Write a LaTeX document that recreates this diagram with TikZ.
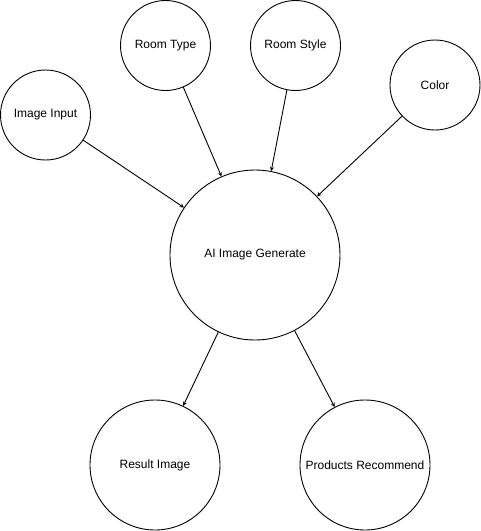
\documentclass[tikz,border=0pt]{standalone}
\usepackage{fontspec}
\setmainfont{Liberation Sans}
\begin{document}
\begin{tikzpicture}[x=1pt, y=-1pt, font=\fontsize{12}{14}\selectfont, line join=round, line cap=round, >=stealth]
	\tikzset{nut/.style={draw, circle, line width=0.9pt, inner sep=0pt, minimum size=#1}}
	\def\r{90} % Đường kính vòng nhỏ
	\def\R{130} % Đường kính vòng kết quả
	\useasboundingbox (0,0) rectangle (481,531);
	\node[nut=170] (AI) at (255,255) {AI Image Generate};
	\node[nut=\r] (input) at (45.5,115) {Image Input};
	\node[nut=\r] (type) at (165.5,45.5) {Room Type};
	\node[nut=\r] (style) at (295.5,45.5) {Room Style};
	\node[nut=\r] (color) at (435,85) {Color};
	\node[nut=\R] (result) at (155,465) {Result Image};
	\node[nut=\R] (prod) at (365,465) {Products Recommend};
	\foreach \dinh in {input,type,style,color}	\draw[->, line width=0.9pt] (\dinh)--(AI);
	\foreach \dinh in {result,prod}	\draw[->, line width=0.9pt] (AI)--(\dinh);
\end{tikzpicture}
\end{document}
